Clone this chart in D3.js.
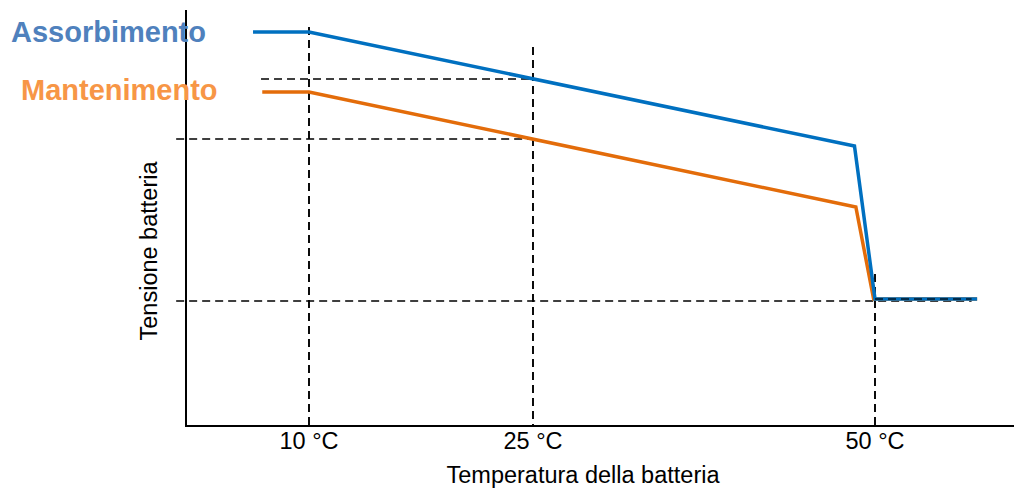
<!DOCTYPE html>
<html><head><meta charset="utf-8">
<script src="https://cdn.jsdelivr.net/npm/d3@7"></script>
<style>body{margin:0;background:#fff}svg{display:block}</style>
</head><body>
<svg id="c" width="1014" height="488"></svg>
<script>
// Data (schematic): temperature in °C, voltage in V
const tickTemps = [10, 25, 50];
const tickLabels = ["10 °C", "25 °C", "50 °C"];
const absTemps = [5.45, 10, 48.5, 50, 57.4];
const absVolts = [14.87, 14.87, 13.73, 12.2, 12.2];
const floatTemps = [6.2, 10, 48.6, 49.9, 57.4];
const floatVolts = [14.27, 14.27, 13.12, 12.2, 12.2];
const refVolts = [14.4, 13.8, 12.18];
const refVoltStart = [6.1, -0.8, -0.8];
const refVoltEnd = [25, 25, 57];
const refTempTop = [14.92, 14.72, 12.45];
const seriesNames = ["Assorbimento", "Mantenimento"];

const svg = d3.select("#c");
const x = d3.scaleLinear().domain([0, 10, 25, 50, 60]).range([186, 309, 533, 875, 1013]);
const y = d3.scaleLinear().domain([10.93, 15.19]).range([426, 0]);
const font = "Liberation Sans, Arial, sans-serif";

// reference dashed lines
const dash = "8,5";
refVolts.forEach((v, i) => {
  svg.append("line").attr("x1", x(refVoltStart[i])).attr("x2", x(refVoltEnd[i]))
    .attr("y1", y(v)).attr("y2", y(v))
    .attr("stroke", "#000").attr("stroke-width", 1.7).attr("stroke-dasharray", dash);
});
tickTemps.forEach((t, i) => {
  svg.append("line").attr("x1", x(t)).attr("x2", x(t))
    .attr("y1", y(refTempTop[i])).attr("y2", y(10.93))
    .attr("stroke", "#000").attr("stroke-width", 1.9).attr("stroke-dasharray", dash);
});

// axes
svg.append("line").attr("x1", 186).attr("x2", 186).attr("y1", 10).attr("y2", y(10.93))
  .attr("stroke", "#000").attr("stroke-width", 2);
svg.append("line").attr("x1", 185).attr("x2", 1014).attr("y1", y(10.93)).attr("y2", y(10.93))
  .attr("stroke", "#000").attr("stroke-width", 2);

const line = d3.line().x(d => x(d[0])).y(d => y(d[1]));
svg.append("path").datum(floatTemps.map((t, i) => [t, floatVolts[i]]))
  .attr("d", line).attr("fill", "none").attr("stroke", "#E36C0A").attr("stroke-width", 3.5);
svg.append("path").datum(absTemps.map((t, i) => [t, absVolts[i]]))
  .attr("d", line).attr("fill", "none").attr("stroke", "#0070C0").attr("stroke-width", 3.5);
// dashed level over the flat tail
svg.append("line").attr("x1", x(50)).attr("x2", x(57))
  .attr("y1", y(12.2)).attr("y2", y(12.2))
  .attr("stroke", "#000").attr("stroke-width", 1.4).attr("stroke-dasharray", dash).attr("opacity", 0.8);

// tick labels
tickTemps.forEach((t, i) => {
  svg.append("text").attr("x", x(t)).attr("y", 449).attr("text-anchor", "middle")
    .attr("font-family", font).attr("font-size", 23.5)
    .attr("fill", "#000").text(tickLabels[i]);
});
svg.append("text").attr("x", 583).attr("y", 483).attr("text-anchor", "middle")
  .attr("font-family", font).attr("font-size", 23.5)
  .text("Temperatura della batteria");
svg.append("text").attr("transform", "translate(157,251) rotate(-90)").attr("text-anchor", "middle")
  .attr("font-family", font).attr("font-size", 23.5)
  .text("Tensione batteria");

// series labels
svg.append("text").attr("x", 11).attr("y", 42)
  .attr("font-family", font).attr("font-size", 29).attr("font-weight", "bold")
  .attr("fill", "#4F81BD").text(seriesNames[0]);
svg.append("text").attr("x", 21).attr("y", 100)
  .attr("font-family", font).attr("font-size", 29).attr("font-weight", "bold")
  .attr("fill", "#F79646").text(seriesNames[1]);
</script>
</body></html>
